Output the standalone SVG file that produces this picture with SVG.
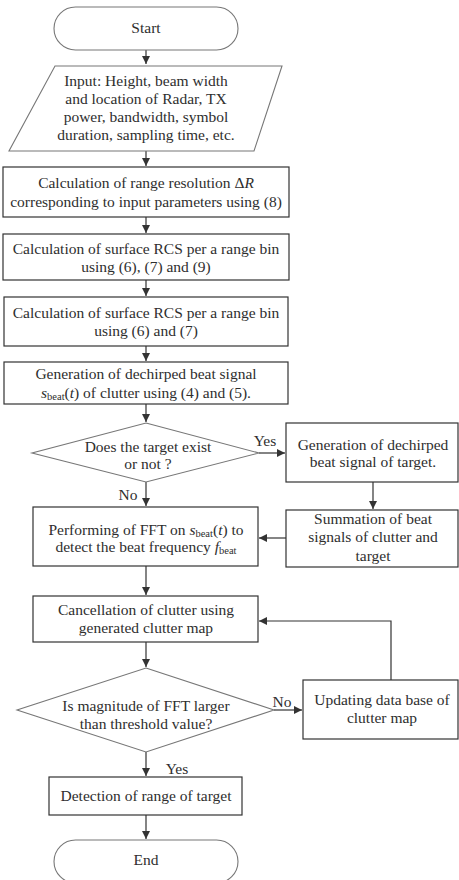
<svg xmlns="http://www.w3.org/2000/svg" width="459" height="880" viewBox="0 0 459 880">
<style>
.b{fill:#fff;stroke:#333;stroke-width:1.2}
.g{fill:#fff;stroke:#777;stroke-width:1.1}
.t{font-family:"Liberation Serif","DejaVu Serif","Times New Roman",serif;font-size:15.5px;fill:#2e2e2e;text-anchor:middle}
.s{font-size:10.5px}
.i{font-style:italic}
.c{fill:none;stroke:#333;stroke-width:1.2}
</style>
<defs>
<marker id="a" viewBox="0 0 10 10" refX="10" refY="5" markerWidth="8" markerHeight="8" markerUnits="userSpaceOnUse" orient="auto">
<path d="M0,0 L10,5 L0,10 z" fill="#333"/>
</marker>
</defs>
<rect width="459" height="880" fill="#fff"/>
<g id="connectors">
<path class="c" d="M146,50 V64" marker-end="url(#a)"/>
<path class="c" d="M146,151 V166" marker-end="url(#a)"/>
<path class="c" d="M146,217 V233" marker-end="url(#a)"/>
<path class="c" d="M146,280 V296" marker-end="url(#a)"/>
<path class="c" d="M146,346 V361" marker-end="url(#a)"/>
<path class="c" d="M146,404 V422" marker-end="url(#a)"/>
<path class="c" d="M259,453 H285" marker-end="url(#a)"/>
<path class="c" d="M373,482 V509" marker-end="url(#a)"/>
<path class="c" d="M286,538 H259" marker-end="url(#a)"/>
<path class="c" d="M146,482 V506" marker-end="url(#a)"/>
<path class="c" d="M146,566 V595" marker-end="url(#a)"/>
<path class="c" d="M146,642 V667" marker-end="url(#a)"/>
<path class="c" d="M274,710 H302" marker-end="url(#a)"/>
<path class="c" d="M391,680 V621 H259" marker-end="url(#a)"/>
<path class="c" d="M146,752 V776" marker-end="url(#a)"/>
<path class="c" d="M146,815 V839" marker-end="url(#a)"/>
<text class="t" x="265" y="446">Yes</text>
<text class="t" x="128" y="500">No</text>
<text class="t" x="282" y="707">No</text>
<text class="t" x="177" y="774">Yes</text>
</g>
<g id="start">
<rect class="g" x="54" y="7" width="184" height="43" rx="21.5"/>
<text class="t" x="146" y="33">Start</text>
</g>
<g id="input">
<polygon class="g" points="55,66 282,66 254,151 9,151"/>
<text class="t" x="146" y="86">Input: Height, beam width</text>
<text class="t" x="146" y="104">and location of Radar, TX</text>
<text class="t" x="146" y="122">power, bandwidth, symbol</text>
<text class="t" x="146" y="140">duration, sampling time, etc.</text>
</g>
<g id="range-res">
<rect class="b" x="3" y="167" width="286" height="50"/>
<text class="t" x="146" y="188">Calculation of range resolution Δ<tspan class="i">R</tspan></text>
<text class="t" x="146" y="207">corresponding to input parameters using (8)</text>
</g>
<g id="rcs1">
<rect class="b" x="3" y="234" width="286" height="46"/>
<text class="t" x="146" y="254">Calculation of surface RCS per a range bin</text>
<text class="t" x="146" y="272">using (6), (7) and (9)</text>
</g>
<g id="rcs2">
<rect class="b" x="4" y="297" width="284" height="49"/>
<text class="t" x="146" y="318">Calculation of surface RCS per a range bin</text>
<text class="t" x="146" y="336">using (6) and (7)</text>
</g>
<g id="gen-clutter">
<rect class="b" x="4" y="362" width="284" height="42"/>
<text class="t" x="146" y="379">Generation of dechirped beat signal</text>
<text class="t" x="146" y="398"><tspan class="i">s</tspan><tspan class="s" dy="2">beat</tspan><tspan dy="-2">(</tspan><tspan class="i">t</tspan>) of clutter using (4) and (5).</text>
</g>
<g id="target-exist">
<polygon class="g" points="146,423 259,453 146,482 32,453"/>
<text class="t" x="148" y="452">Does the target exist</text>
<text class="t" x="148" y="469">or not ?</text>
</g>
<g id="gen-target">
<rect class="b" x="286" y="423" width="172" height="59"/>
<text class="t" x="373" y="450">Generation of dechirped</text>
<text class="t" x="373" y="467">beat signal of target.</text>
</g>
<g id="summation">
<rect class="b" x="286" y="510" width="172" height="57"/>
<text class="t" x="373" y="524">Summation of beat</text>
<text class="t" x="373" y="542">signals of clutter and</text>
<text class="t" x="373" y="561">target</text>
</g>
<g id="fft">
<rect class="b" x="33" y="507" width="225" height="59"/>
<text class="t" x="146" y="535">Performing of FFT on <tspan class="i">s</tspan><tspan class="s" dy="2">beat</tspan><tspan dy="-2">(</tspan><tspan class="i">t</tspan>) to</text>
<text class="t" x="146" y="552">detect the beat frequency <tspan class="i">f</tspan><tspan class="s" dy="2">beat</tspan></text>
</g>
<g id="cancellation">
<rect class="b" x="33" y="596" width="225" height="46"/>
<text class="t" x="146" y="615">Cancellation of clutter using</text>
<text class="t" x="146" y="633">generated clutter map</text>
</g>
<g id="threshold">
<polygon class="g" points="146,668 274,710 146,752 17,710"/>
<text class="t" x="146" y="711">Is magnitude of FFT larger</text>
<text class="t" x="146" y="729">than threshold value?</text>
</g>
<g id="update">
<rect class="b" x="303" y="680" width="155" height="59"/>
<text class="t" x="382" y="705">Updating data base of</text>
<text class="t" x="382" y="723">clutter map</text>
</g>
<g id="detection">
<rect class="b" x="49" y="777" width="193" height="38"/>
<text class="t" x="146" y="801">Detection of range of target</text>
</g>
<g id="end">
<rect class="g" x="54" y="840" width="184" height="43" rx="21.5"/>
<text class="t" x="146" y="865">End</text>
</g>
</svg>
